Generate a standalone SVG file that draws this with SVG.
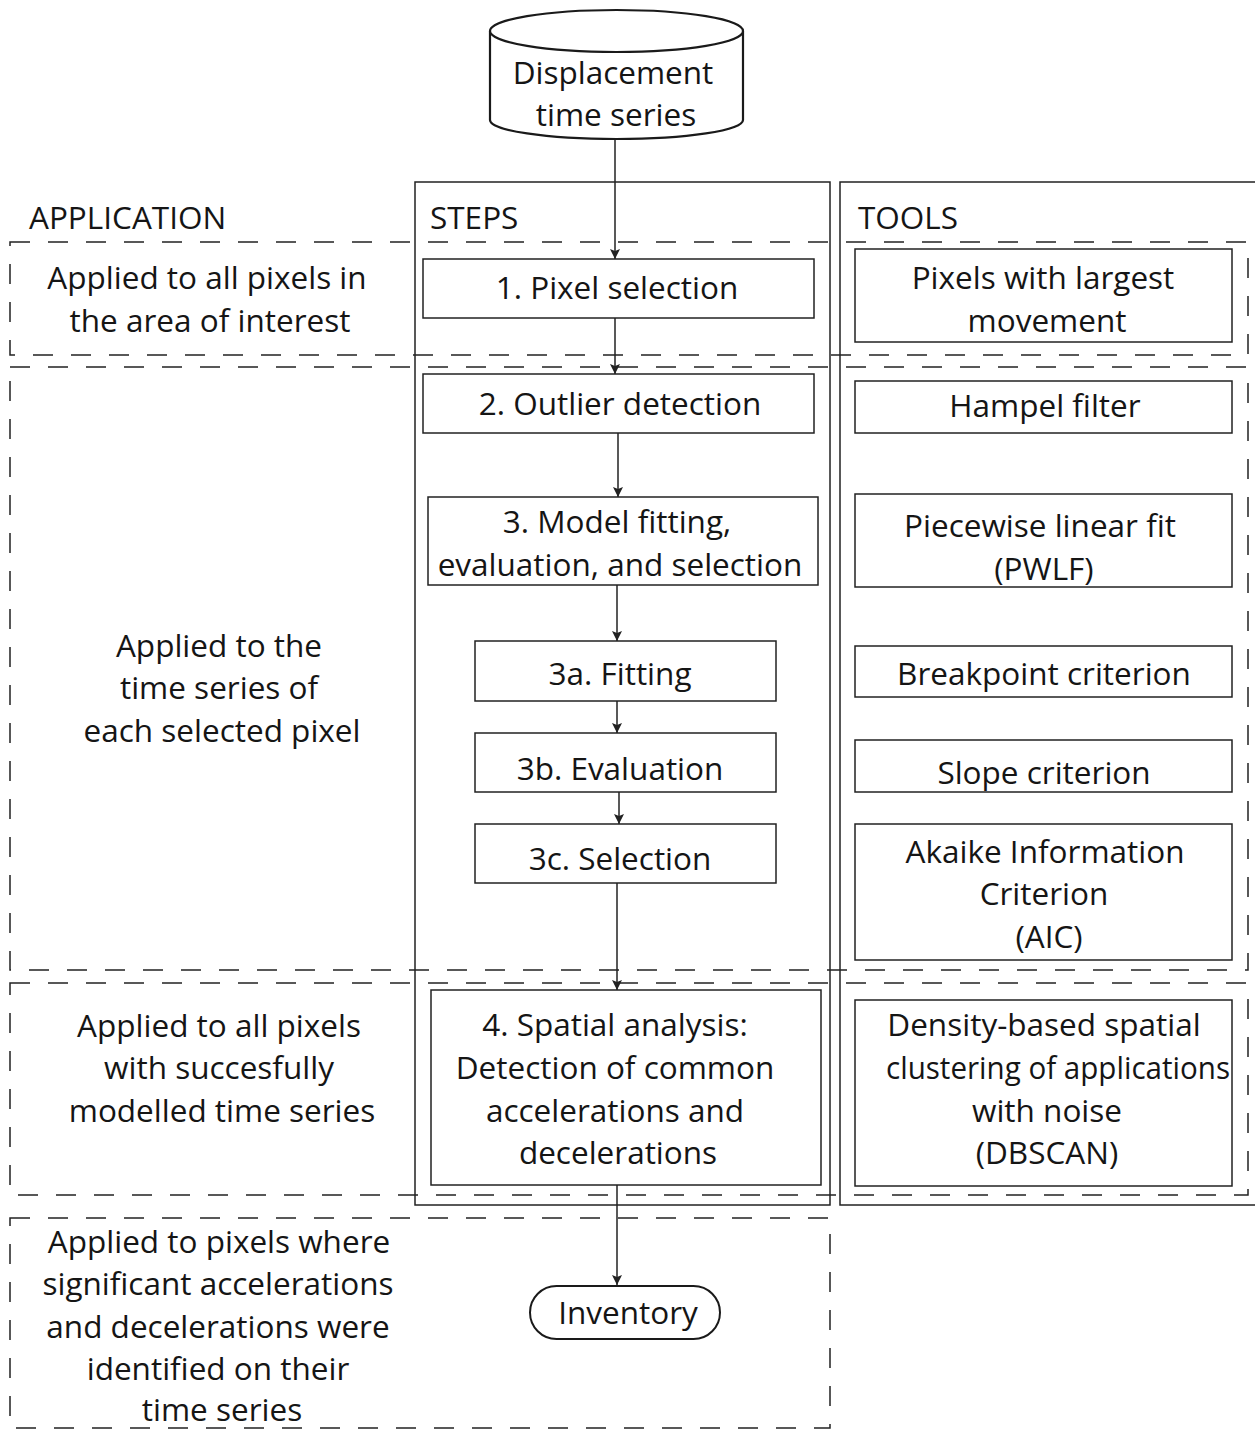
<svg xmlns="http://www.w3.org/2000/svg" width="1255" height="1430" viewBox="0 0 1255 1430">
<defs>
<style>
text{font-family:"Open Sans","Noto Sans",sans-serif;font-size:31.5px;fill:#151515;text-anchor:middle}
.hdr{text-anchor:start}
.box{fill:#fff;stroke:#222;stroke-width:1.5}
.col{fill:none;stroke:#222;stroke-width:1.5}
.dash{fill:none;stroke:#222;stroke-width:1.5;stroke-dasharray:20 18}
.con{stroke:#222;stroke-width:1.5;fill:none;marker-end:url(#ah)}
</style>
<marker id="ah" viewBox="0 0 10 12" refX="10" refY="6" markerWidth="10" markerHeight="12" markerUnits="userSpaceOnUse" orient="auto">
<path d="M0,1 L10,6 L0,11 L2,6 Z" fill="#222"/>
</marker>
</defs>
<rect width="1255" height="1430" fill="#fff"/>
<g id="columns">
<rect class="col" x="415" y="182" width="415" height="1023"/>
<rect class="col" x="840" y="182" width="430" height="1023"/>
<text class="hdr" x="29" y="229">APPLICATION</text>
<text class="hdr" x="430" y="229">STEPS</text>
<text class="hdr" x="858" y="229">TOOLS</text>
</g>
<g id="regions">
<rect class="dash" x="10" y="242" width="1238" height="113"/>
<rect class="dash" x="10" y="367" width="1238" height="603"/>
<rect class="dash" x="10" y="983" width="1238" height="212"/>
<rect class="dash" x="10" y="1218" width="820" height="210"/>
</g>
<g id="app-labels">
<text x="207" y="289">Applied to all pixels in</text>
<text x="210" y="332">the area of interest</text>
<text x="219" y="657">Applied to the</text>
<text x="219" y="699">time series of</text>
<text x="222" y="742">each selected pixel</text>
<text x="219" y="1037">Applied to all pixels</text>
<text x="219" y="1079">with succesfully</text>
<text x="222" y="1122">modelled time series</text>
<text x="219" y="1253">Applied to pixels where</text>
<text x="218" y="1295">significant accelerations</text>
<text x="218" y="1338">and decelerations were</text>
<text x="218" y="1380">identified on their</text>
<text x="222" y="1421">time series</text>
</g>
<g id="connectors">
<line class="con" x1="615" y1="138" x2="615" y2="259"/>
<line class="con" x1="615" y1="318" x2="615" y2="374"/>
<line class="con" x1="618" y1="433" x2="618" y2="497"/>
<line class="con" x1="617" y1="585" x2="617" y2="641"/>
<line class="con" x1="617" y1="701" x2="617" y2="733"/>
<line class="con" x1="619" y1="792" x2="619" y2="824"/>
<line class="con" x1="617" y1="883" x2="617" y2="990"/>
<line class="con" x1="617" y1="1185" x2="617" y2="1285"/>
</g>
<g id="node-source">
<path d="M490,31 L490,120 A126.5,19 0 0 0 743,120 L743,31" fill="#fff" stroke="#1a1a1a" stroke-width="2.2"/>
<ellipse cx="616.5" cy="31" rx="126.5" ry="21" fill="#fff" stroke="#1a1a1a" stroke-width="2.2"/>
<text x="613" y="84">Displacement</text>
<text x="616" y="126">time series</text>
</g>
<g id="node-step1"><rect class="box" x="423" y="259" width="391" height="59"/><text x="617" y="299">1. Pixel selection</text></g>
<g id="node-step2"><rect class="box" x="423" y="374" width="391" height="59"/><text x="620" y="415">2. Outlier detection</text></g>
<g id="node-step3"><rect class="box" x="428" y="497" width="390" height="88"/><text x="617" y="533">3. Model fitting,</text><text x="620" y="576">evaluation, and selection</text></g>
<g id="node-step3a"><rect class="box" x="475" y="641" width="301" height="60"/><text x="620" y="685">3a. Fitting</text></g>
<g id="node-step3b"><rect class="box" x="475" y="733" width="301" height="59"/><text x="620" y="780">3b. Evaluation</text></g>
<g id="node-step3c"><rect class="box" x="475" y="824" width="301" height="59"/><text x="620" y="870">3c. Selection</text></g>
<g id="node-step4"><rect class="box" x="431" y="990" width="390" height="195"/><text x="615" y="1036">4. Spatial analysis:</text><text x="615" y="1079">Detection of common</text><text x="615" y="1122">accelerations and</text><text x="618" y="1164">decelerations</text></g>
<g id="node-inventory"><rect x="530" y="1286" width="190" height="53" rx="26.5" fill="#fff" stroke="#1a1a1a" stroke-width="2"/><text x="628" y="1324">Inventory</text></g>
<g id="tool1"><rect class="box" x="855" y="249" width="377" height="93"/><text x="1043" y="289">Pixels with largest</text><text x="1047" y="332">movement</text></g>
<g id="tool2"><rect class="box" x="855" y="381" width="377" height="52"/><text x="1045" y="417">Hampel filter</text></g>
<g id="tool3"><rect class="box" x="855" y="494" width="377" height="93"/><text x="1040" y="537">Piecewise linear fit</text><text x="1044" y="580">(PWLF)</text></g>
<g id="tool4"><rect class="box" x="855" y="646" width="377" height="51"/><text x="1044" y="685">Breakpoint criterion</text></g>
<g id="tool5"><rect class="box" x="855" y="740" width="377" height="52"/><text x="1044" y="784">Slope criterion</text></g>
<g id="tool6"><rect class="box" x="855" y="824" width="377" height="136"/><text x="1045" y="863">Akaike Information</text><text x="1044" y="905">Criterion</text><text x="1049" y="948">(AIC)</text></g>
<g id="tool7"><rect class="box" x="855" y="1000" width="377" height="186"/><text x="1044" y="1036">Density-based spatial</text><text x="1058" y="1079" textLength="344" lengthAdjust="spacingAndGlyphs">clustering of applications</text><text x="1047" y="1122">with noise</text><text x="1047" y="1164">(DBSCAN)</text></g>
</svg>
